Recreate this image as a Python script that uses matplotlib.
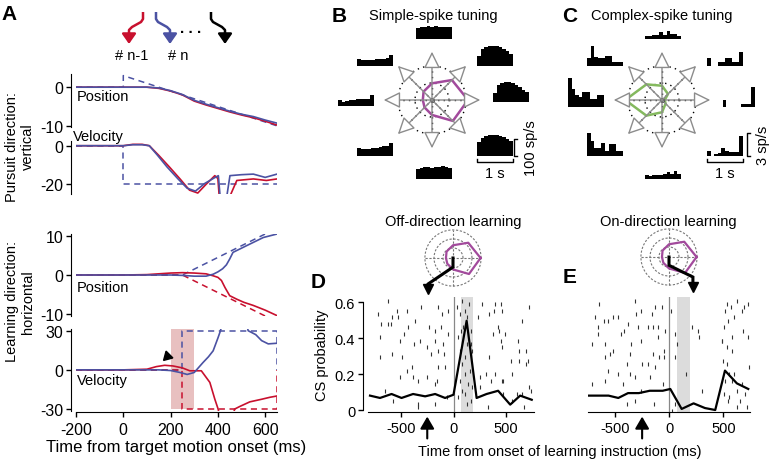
import numpy as np
import matplotlib
matplotlib.use("Agg")
import matplotlib.pyplot as plt

plt.rcParams['font.family'] = ['Liberation Sans', 'DejaVu Sans']
plt.rcParams['axes.unicode_minus'] = False
plt.rcParams['font.size'] = 10.5

RED = '#c8102e'
BLUE = '#4b52a3'
PURPLE = '#a24a9c'
GREEN = '#84b95e'

# ---------------- panel A data (ms, deg or deg/s) ----------------
vpos_t_red = [-200, 0, 100, 150, 200, 250, 300, 350, 400, 450, 500, 550, 600, 650]
vpos_red = [0, 0, 0, -0.3, -1.0, -2.0, -3.6, -4.6, -5.5, -6.4, -7.2, -7.9, -8.8, -9.8]
vpos_blue = [0, 0, 0, -0.2, -0.9, -1.9, -3.4, -4.4, -5.3, -6.2, -7.0, -7.6, -8.5, -9.3]
vpos_tgt_t = [-200, 0, 0, 650]
vpos_tgt = [0, 0, 3, -10]

vvel_t_red = [-200, 0, 40, 80, 110, 150, 195, 240, 280, 315, 350, 387, 400, 408, 420, 445, 455, 480, 550, 605, 650]
vvel_red = [0, 0, 0.7, 0.7, 0, -5, -11, -17.2, -23, -24.5, -20, -15.5, -17, -30, -45, -45, -25, -18, -17.2, -18, -17.2]
vvel_t_blue = [-200, 0, 40, 80, 110, 145, 185, 230, 270, 305, 345, 380, 402, 412, 425, 433, 451, 500, 550, 600, 650]
vvel_blue = [0, 0, 0.5, 0.5, 0, -5, -11, -17, -22, -23.5, -19.5, -17, -15.5, -30, -45, -30, -15.5, -15, -14.7, -16.4, -14.7]
vvel_tgt_t = [-200, 0, 0, 650]
vvel_tgt = [0, 0, -20, -20]

hpos_t_red = [-200, 0, 100, 150, 200, 250, 300, 350, 380, 400, 415, 430, 450, 480, 510, 550, 600, 650]
hpos_red = [0, 0, 0.1, 0.3, 0.5, 0.6, 0.5, 0.3, -0.2, -0.6, -1.4, -3.2, -5.3, -6.2, -7.0, -7.8, -9.0, -10.4]
hpos_t_blue = [-200, 0, 100, 200, 250, 300, 350, 380, 400, 420, 436, 450, 464, 521, 592, 650]
hpos_blue = [0, 0, 0, 0, -0.1, -0.3, -0.3, 0.2, 0.8, 1.6, 2.6, 4.1, 5.8, 7.5, 9.6, 10.5]
hpos_tgt_t = [-200, 250, 650]
hpos_tgt_blue = [0, 0, 12]
hpos_tgt_red = [0, 0, -12]

hvel_t_red = [-200, 0, 100, 140, 175, 210, 250, 281, 330, 366, 387, 401, 420, 450, 471, 493, 535, 585, 620, 650]
hvel_red = [0, 0, 0.5, 2.5, 3.5, 3, 1.5, -0.7, -0.7, -9.6, -22.4, -30, -45, -45, -30, -28, -24.5, -22.5, -21, -20]
hvel_t_blue = [-200, 0, 100, 150, 200, 240, 270, 300, 337, 360, 380, 401, 411, 430, 510, 528, 560, 585, 613, 650]
hvel_blue = [0, 0, 0, 0, -0.5, -2, -3.5, -2, 5.6, 10, 14.6, 24.8, 30, 45, 45, 30, 27, 22.4, 19.9, 20.4]
hvel_tgt_t = [-200, 250, 250, 650, 650]
hvel_tgt_blue = [0, 0, 30, 30, 0]
hvel_tgt_red = [0, 0, -30, -30, 0]
instr_window = (200, 300)

# ---------------- panels B, C data ----------------
directions = [0, 45, 90, 135, 180, 225, 270, 315]
ss_tuning = [1.06, 0.83, 0.49, 0.35, 0.27, 0.31, 0.44, 0.87]
cs_tuning = [0.08, 0.25, 0.42, 0.65, 1.08, 0.65, 0.36, 0.15]
ss_hist = {
    0: [53, 100, 112, 118, 118, 112, 100, 88, 71, 59],
    45: [59, 100, 112, 118, 118, 115, 112, 100, 88, 71],
    90: [66, 70, 72, 74, 72, 74, 72, 70, 72, 70],
    135: [41, 35, 35, 38, 38, 41, 44, 44, 47, 65],
    180: [35, 24, 30, 33, 38, 41, 41, 44, 41, 65],
    225: [47, 41, 44, 44, 47, 50, 53, 56, 59, 77],
    270: [59, 65, 71, 71, 65, 71, 71, 77, 71, 65],
    315: [83, 106, 118, 124, 124, 124, 118, 112, 100, 88],
}
cs_hist = {
    0: [0, 0.9, 0, 0, 0, 0, 0.4, 0.4, 0.4, 2.6],
    45: [1.0, 0, 0, 0.5, 0.5, 1.0, 1.0, 0.5, 0.5, 1.8],
    90: [0.4, 0.4, 0.5, 0.5, 0.9, 0.5, 1.0, 0.65, 0.65, 0.4],
    135: [1.0, 2.6, 1.2, 1.0, 1.0, 1.3, 1.3, 0.5, 0.5, 0.5],
    180: [3.8, 2.4, 1.6, 1.3, 2.0, 2.0, 1.0, 1.0, 1.6, 1.6],
    225: [3.0, 2.0, 1.0, 1.0, 1.7, 0.65, 1.6, 1.6, 0.65, 0.65],
    270: [0.5, 0.4, 0.5, 0.5, 0.5, 0.65, 0.9, 0.65, 1.0, 0.65],
    315: [0.65, 0, 0.3, 0.4, 1.0, 0.65, 0.5, 0.5, 0.5, 2.6],
}
bin_edges = np.arange(10) * 0.1

# ---------------- panels D, E data ----------------
d_hist_t = [-795, -700, -590, -495, -385, -270, -175, -80, 0, 125, 220, 315, 425, 540, 635, 745]
d_hist = [0.080, 0.067, 0.089, 0.067, 0.089, 0.076, 0.089, 0.067, 0.085, 0.496, 0.067, 0.089, 0.107, 0.030, 0.080, 0.057]
e_hist_t = [-760, -660, -560, -470, -380, -280, -180, -60, 10, 115, 225, 330, 425, 515, 625, 730]
e_hist = [0.080, 0.080, 0.080, 0.067, 0.094, 0.094, 0.107, 0.107, 0.117, 0.006, 0.037, 0.011, 0.0, 0.219, 0.148, 0.117]

d_spike_t = [-627, -716, -541, -446, -310, -151, -56, -113, -589, -525, -690, -621, -595, -430, -367, -233,
             -176, -119, -700, -510, -468, -319, -256, -373, -176, -97, -56, -700, -589, -494, -214, -144,
             -87, -446, -398, -144, -81, -510, -383, -335, -256, -160, -176, -652, -573, -335, -341, -176,
             -65, 30, 84, 148, 110, 62, 125, 94, 71, 141, 167, 40, 125, 62, 167, 173, 110, 78, 157, 110,
             62, 135, 78, 110, 46, 179, 167, 125, 268, 395, 452, 338, 389, 459, 237, 421, 433, 379, 490,
             452, 459, 617, 625, 695, 721, 648, 338, 548, 625, 686, 711, 252, 306, 395, 475, 554, 459, 252,
             357, 475, 602, 717, 648, 740, 554, 673, 332]
d_spike_trial = [2, 6, 5, 5, 4, 4, 5, 6, 7, 7, 9, 9, 9, 10, 8, 10,
                 11, 10, 13, 14, 12, 14, 16, 15, 14, 15, 12, 19, 18, 19, 18, 17,
                 18, 23, 22, 22, 22, 25, 25, 26, 25, 26, 27, 29, 32, 33, 34, 33,
                 31, 4, 2, 3, 5, 6, 7, 10, 11, 12, 11, 13, 15, 17, 15, 17, 19, 21, 23, 24,
                 26, 27, 29, 30, 31, 28, 32, 33, 3, 3, 3, 6, 5, 5, 7, 10, 11, 12, 12,
                 14, 16, 14, 17, 17, 4, 8, 19, 20, 20, 21, 20, 25, 24, 24, 26, 24, 26, 28,
                 26, 30, 30, 28, 30, 29, 32, 34, 34]
e_spike_t = [-648, -316, -685, -599, -568, -515, -476, -310, -260, -131, -68, -162, -660, -654, -377, -445,
             -414, -285, -193, -146, -106, -39, 17, -716, -593, -515, -353, -260, -100, -45, 54, 69, 213,
             269, 275, -593, -546, -362, -193, -146, -94, -45, -254, -393, -131, -568, -470, -362, -316,
             -177, 152, 54, -716, -593, -423, -260, -53, 300, -393, -316, -137, 54, 29,
             530, 623, 694, 730, 515, 601, 675, 570, 546, 684, 724, 509, 577, 490, 484, 530, 577, 500,
             530, 552, 601, 737, 515, 577, 669, 509, 623, 552, 700, 546, 654, 623, 715]
e_spike_trial = [3, 2, 7, 8, 8, 7, 7, 6, 5, 4, 4, 6, 12, 10, 9, 12,
                 11, 10, 10, 10, 10, 11, 5, 15, 15, 17, 15, 14, 13, 17, 12, 15, 10,
                 11, 13, 19, 18, 18, 21, 18, 19, 19, 21, 21, 22, 23, 24, 24, 25,
                 25, 24, 19, 27, 26, 27, 29, 27, 29, 33, 32, 33, 33, 35,
                 3, 2, 4, 3, 5, 7, 5, 4, 8, 11, 13, 10, 13, 14, 14, 16, 17, 20,
                 21, 24, 24, 22, 26, 26, 27, 30, 29, 31, 30, 32, 32, 34, 34]
instr_shade = (70, 190)
arrow_time = -250

W, H = 775, 460
fig = plt.figure(figsize=(W / 100, H / 100), dpi=100)


def px_axes(x0, y0, x1, y1, **kw):
    return fig.add_axes([x0 / W, 1 - y1 / H, (x1 - x0) / W, (y1 - y0) / H], **kw)


def trial_y(trials):
    return (348 - 10 * np.asarray(trials)) / 540.0


# ---------------- panel A ----------------
def trace_axes(y0, y1, ylim, yticks, bottom=False):
    ax = px_axes(76, y0, 277, y1)
    ax.patch.set_alpha(0)
    ax.set_xlim(-200, 650)
    ax.set_ylim(*ylim)
    for s in ['top', 'right']:
        ax.spines[s].set_visible(False)
    ax.spines['left'].set_position(('outward', 3.6))
    ax.set_yticks(yticks)
    ax.tick_params(axis='y', length=3.6, width=1, pad=2, labelsize=11.5)
    if bottom:
        ax.spines['bottom'].set_position(('outward', 1))
        ax.set_xticks([-200, 0, 200, 400, 600])
        ax.tick_params(axis='x', length=3.6, width=1, pad=3, labelsize=11.5)
    else:
        ax.spines['bottom'].set_visible(False)
        ax.tick_params(axis='x', bottom=False, labelbottom=False)
    return ax


a1 = trace_axes(75, 128, (-10.3, 3.41), [0, -10])
a1.plot(vpos_tgt_t, vpos_tgt, color=BLUE, ls='--', lw=1.1, dashes=(4, 3))
a1.plot(vpos_t_red, vpos_red, color=RED, lw=1.2)
a1.plot(vpos_t_red, vpos_blue, color=BLUE, lw=1.2)
a1.text(-195, -2.4, 'Position', va='center', ha='left', fontsize=10.5)

a2 = trace_axes(142, 195, (-25.0, 2.44), [0, -20])
a2.plot(vvel_tgt_t, vvel_tgt, color=BLUE, ls='--', lw=1.1, dashes=(4, 3))
a2.plot(vvel_t_red, vvel_red, color=RED, lw=1.2)
a2.plot(vvel_t_blue, vvel_blue, color=BLUE, lw=1.2)
a2.text(-213, 5.0, 'Velocity', va='center', ha='left', fontsize=10.5, clip_on=False)

a3 = trace_axes(235, 317, (-10.5, 10.5), [10, 0, -10])
a3.plot(hpos_tgt_t, hpos_tgt_blue, color=BLUE, ls='--', lw=1.1, dashes=(4, 3))
a3.plot(hpos_tgt_t, hpos_tgt_red, color=RED, ls='--', lw=1.1, dashes=(4, 3))
a3.plot(hpos_t_red, hpos_red, color=RED, lw=1.2)
a3.plot(hpos_t_blue, hpos_blue, color=BLUE, lw=1.2)
a3.text(-195, -3.1, 'Position', va='center', ha='left', fontsize=10.5)

a4 = trace_axes(330, 412, (-31.5, 31.3), [30, 0, -30], bottom=True)
a4.axvspan(instr_window[0], instr_window[1], ymin=0.03, ymax=1, color='#e8c0c0', lw=0, zorder=0)
a4.plot(hvel_tgt_t, hvel_tgt_blue, color=BLUE, ls='--', lw=1.1, dashes=(4, 3))
a4.plot(hvel_tgt_t, hvel_tgt_red, color=RED, ls='--', lw=1.1, dashes=(4, 3))
a4.plot(hvel_t_red, hvel_red, color=RED, lw=1.2)
a4.plot(hvel_t_blue, hvel_blue, color=BLUE, lw=1.2)
a4.plot([185], [11], marker=(3, 0, 135), color='black', ms=8)
a4.text(-195, -7.9, 'Velocity', va='center', ha='left', fontsize=10.5)
a4.set_xlabel('Time from target motion onset (ms)', fontsize=12, labelpad=2)

fig.text(20 / W, 1 - 147 / H, 'Pursuit direction:\nvertical', rotation=90,
         ha='center', va='center', multialignment='center', fontsize=10.5)
fig.text(20 / W, 1 - 302 / H, 'Learning direction:\nhorizontal', rotation=90,
         ha='center', va='center', multialignment='center', fontsize=10.5)

# trial icons (drawn in a small overlay placed above panel A only)
icon = px_axes(110, 5, 240, 65)
icon.set_xlim(110, 240)
icon.set_ylim(65, 5)
icon.axis('off')
for col, sgn, x0 in [(RED, -1, 143), (BLUE, 1, 156), ('black', 1, 211)]:
    xs = [x0, x0, x0 + sgn * 2, x0 + sgn * 11, x0 + sgn * 14, x0 + sgn * 14]
    ys = [13, 20, 23, 28, 31, 35]
    icon.plot(xs, ys, color=col, lw=1.8, solid_capstyle='butt', clip_on=False)
    icon.annotate('', xy=(xs[-1], 45), xytext=(xs[-1], 34),
                  arrowprops=dict(arrowstyle='-|>,head_length=0.5,head_width=0.35', color=col,
                                  lw=1.8, shrinkA=0, shrinkB=0, mutation_scale=12))
icon.text(191, 29, '. . .', ha='center', va='center', fontsize=11, fontweight='bold')
icon.text(132, 56, '# n-1', ha='center', va='center', fontsize=10.5)
icon.text(178, 56, '# n', ha='center', va='center', fontsize=10.5)

# ---------------- panels B, C ----------------
def tuning_axes(cx, cy, values, color):
    ax = px_axes(cx - 55, cy - 55, cx + 55, cy + 55)
    ax.set_xlim(-55 / 34, 55 / 34)
    ax.set_ylim(-55 / 34, 55 / 34)
    ax.axis('off')
    th = np.linspace(0, 2 * np.pi, 60)
    for r in [0.5, 1.0]:
        ax.plot(r * np.cos(th), r * np.sin(th), color='black', ls=(0, (1, 3)), lw=1)
    ang = np.deg2rad(directions)
    for a in ang:
        ax.annotate('', xy=(1.42 * np.cos(a), 1.42 * np.sin(a)), xytext=(0, 0),
                    arrowprops=dict(arrowstyle='-|>,head_length=0.85,head_width=0.42', fc='white',
                                    ec='#8c8c8c', lw=1.0, shrinkA=0, shrinkB=0, mutation_scale=12))
        ax.plot([0, 1.1 * np.cos(a)], [0, 1.1 * np.sin(a)], color='black', ls=(0, (1, 3)), lw=1)
    v = np.array(values + values[:1])
    a2_ = np.append(ang, ang[0])
    ax.plot(v * np.cos(a2_), v * np.sin(a2_), color=color, lw=1.8)
    ax.plot([0], [0], 'o', color='black', ms=2.5)
    return ax


tuning_axes(432, 101, ss_tuning, PURPLE)
tuning_axes(662, 101, cs_tuning, GREEN)


def hist_axes(x0, base, height_px, ymax, vals):
    ax = px_axes(x0, base - height_px, x0 + 36, base)
    ax.bar(bin_edges, vals, width=0.1, align='edge', color='black', lw=0)
    ax.set_xlim(0, 1)
    ax.set_ylim(0, ymax)
    ax.axis('off')
    return ax


b_layout = {0: (493, 103), 45: (477, 67), 90: (416, 40), 135: (357, 67),
            180: (338, 107), 225: (357, 157), 270: (416, 180), 315: (477, 157)}
c_layout = {0: (719, 108), 45: (707, 67), 90: (645, 40), 135: (587, 67),
            180: (568, 108), 225: (587, 157), 270: (645, 180), 315: (707, 157)}
b_axes = {d: hist_axes(x, y, 30, 100 * 30 / 17, ss_hist[d]) for d, (x, y) in b_layout.items()}
c_axes = {d: hist_axes(x, y, 35, 3 * 35 / 23, cs_hist[d]) for d, (x, y) in c_layout.items()}

sb = b_axes[315]
sb.plot([1.1, 1.03, 1.03, 1.1], [0, 0, 100, 100], color='black', lw=1, clip_on=False)
sb.plot([0, 0, 1, 1], [-20, -35, -35, -20], color='black', lw=1, clip_on=False)
sb.text(0.5, -60, '1 s', ha='center', va='top', fontsize=10.5)
sb.text(1.5, 50, '100 sp/s', rotation=90, ha='center', va='center', fontsize=10.5)

sc = c_axes[315]
sc.plot([1.2, 1.1, 1.1, 1.2], [0, 0, 3, 3], color='black', lw=1, clip_on=False)
sc.plot([0, 0, 1, 1], [-0.45, -0.78, -0.78, -0.45], color='black', lw=1, clip_on=False)
sc.text(0.5, -1.3, '1 s', ha='center', va='top', fontsize=10.5)
sc.text(1.55, 1.5, '3 sp/s', rotation=90, ha='center', va='center', fontsize=10.5)

# ---------------- panels D, E ----------------
def small_polar(cx, cy, path, tip_y):
    ax = px_axes(cx - 34, cy - 34, cx + 34, cy + 34)
    lim = 34 / 26
    ax.set_xlim(-lim, lim)
    ax.set_ylim(-lim, lim)
    ax.axis('off')
    th = np.linspace(0, 2 * np.pi, 80)
    for r in [0.385, 0.73, 1.08]:
        ax.plot(r * np.cos(th), r * np.sin(th), color='#777777', ls=(0, (2, 1.5)), lw=0.8)
    ax.plot([-1.08, 1.08], [0, 0], color='#777777', ls=(0, (2, 1.5)), lw=0.8)
    ax.plot([0, 0], [-1.08, 1.08], color='#777777', ls=(0, (2, 1.5)), lw=0.8)
    ang = np.deg2rad(directions + [0])
    v = np.array(ss_tuning + ss_tuning[:1])
    ax.plot(v * np.cos(ang), v * np.sin(ang), color=PURPLE, lw=1.6)
    px_, py_ = zip(*path)
    px_ = list(px_) + [px_[-1]]
    py_ = list(py_) + [tip_y + 0.12]
    ax.plot(px_, py_, color='black', lw=2.2, clip_on=False, solid_joinstyle='miter')
    ax.plot([px_[-1]], [tip_y + 0.1], marker='v', color='black', ms=7, clip_on=False)
    return ax


small_polar(453, 259, [(0, 0), (0, -0.35), (-0.96, -1.0)], -1.3)
small_polar(669, 258, [(0, 0), (0, -0.32), (0.92, -0.77)], -1.25)


def cs_axes(x0, x1, t0, scale, hist_t, hist_v, sp_t, sp_tr, left):
    ax = px_axes(x0, 298, x1, 413)
    ax.set_xlim((x0 - t0) / scale, (x1 - t0) / scale)
    ax.set_ylim(-0.011, 0.628)
    ax.axvspan(instr_shade[0], instr_shade[1], color='#dcdcdc', lw=0, zorder=0)
    ax.axvline(0, color='#888888', lw=0.9, zorder=1)
    ax.plot(sp_t, trial_y(sp_tr), '|', color='#333333', ms=3.2, mew=0.8, zorder=2)
    ax.plot(hist_t, hist_v, color='black', lw=1.6, zorder=3)
    for s in ['top', 'right']:
        ax.spines[s].set_visible(False)
    ax.set_xticks([-500, 0, 500])
    ax.tick_params(axis='x', length=3.6, width=1, pad=3, labelsize=10.5)
    if left:
        ax.spines['left'].set_position(('outward', 3.6))
        ax.spines['left'].set_bounds(0, 0.6)
        ax.set_yticks([0, 0.2, 0.4, 0.6])
        ax.set_yticklabels(['0', '0.2', '0.4', '0.6'])
        ax.tick_params(axis='y', length=3.6, width=1, pad=2, labelsize=10.5)
        ax.set_ylabel('CS probability', fontsize=10.5, labelpad=4)
    else:
        ax.spines['left'].set_visible(False)
        ax.set_yticks([])
    ax.annotate('', xy=(arrow_time, -0.04), xytext=(arrow_time, -0.23),
                xycoords=('data', 'axes fraction'),
                arrowprops=dict(arrowstyle='-|>,head_length=0.6,head_width=0.35', color='black',
                                lw=1.5, shrinkA=0, shrinkB=0, mutation_scale=12))
    return ax


cs_axes(368, 534, 453.5, 0.105, d_hist_t, d_hist, d_spike_t, d_spike_trial, True)
cs_axes(588, 750, 669.2, 0.1083, e_hist_t, e_hist, e_spike_t, e_spike_trial, False)

fig.text(560 / W, 1 - 452 / H, 'Time from onset of learning instruction (ms)',
         ha='center', va='center', fontsize=10.5)

# titles and panel letters
fig.text(433 / W, 1 - 16 / H, 'Simple-spike tuning', ha='center', va='center', fontsize=10.5)
fig.text(662 / W, 1 - 16 / H, 'Complex-spike tuning', ha='center', va='center', fontsize=10.5)
fig.text(453 / W, 1 - 222 / H, 'Off-direction learning', ha='center', va='center', fontsize=10.5)
fig.text(668 / W, 1 - 222 / H, 'On-direction learning', ha='center', va='center', fontsize=10.5)
for lab, x, y in [('A', 9, 15), ('B', 339, 16), ('C', 570, 16), ('D', 318, 282), ('E', 570, 278)]:
    fig.text(x / W, 1 - y / H, lab, ha='center', va='center', fontsize=15, fontweight='bold')

fig.savefig('out.png', dpi=100)
